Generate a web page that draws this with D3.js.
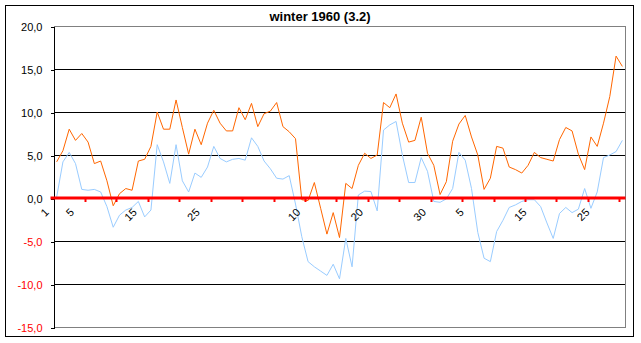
<!DOCTYPE html>
<html>
<head>
<meta charset="utf-8">
<script src="https://cdn.jsdelivr.net/npm/d3@7/dist/d3.min.js"></script>
<style>
  html, body { margin: 0; padding: 0; background: #fff; }
  svg { display: block; }
  text { font-family: Arial, "Liberation Sans", sans-serif; }
</style>
</head>
<body>
<svg id="chart" width="641" height="343"></svg>
<script>
const title = "winter 1960 (3.2)";
const days = d3.range(1, 92);
const upperSeries = [
  4.2, 5.5, 8.0, 6.7, 7.5, 6.5, 4.0, 4.3, 2.0, -0.9,
  0.5, 1.1, 0.9, 4.3, 4.5, 6.0, 10.0, 8.0, 8.0, 11.4,
  8.2, 5.1, 8.0, 6.2, 8.7, 10.2, 8.7, 7.8, 7.8, 10.5,
  9.1, 11.0, 8.3, 9.8, 10.1, 11.1, 8.3, 7.7, 6.9, -0.2,
  -0.3, 1.8, -1.2, -4.2, -1.7, -4.6, 1.7, 1.1, 3.8, 5.2,
  4.6, 5.0, 11.1, 10.5, 12.1, 8.7, 6.5, 6.7, 9.4, 5.2,
  3.8, 0.4, 1.9, 6.6, 8.6, 9.6, 7.1, 5.0, 1.0, 2.3,
  6.0, 5.8, 3.6, 3.3, 2.9, 3.8, 5.3, 4.7, 4.5, 4.3,
  6.8, 8.2, 7.8, 5.1, 3.3, 7.1, 6.0, 8.7, 11.8, 16.5,
  15.3
];
const lowerSeries = [
  0.1, 4.2, 5.3, 4.0, 1.0, 0.9, 1.0, 0.7, -1.0, -3.4,
  -2.0, -1.4, -1.1, -0.4, -2.2, -1.4, 6.2, 4.2, 1.7, 6.2,
  2.0, 0.7, 2.9, 2.4, 3.6, 6.0, 4.6, 4.2, 4.5, 4.6,
  4.4, 7.0, 6.0, 4.3, 3.4, 2.3, 2.2, 2.6, -0.7, -4.5,
  -7.4, -8.0, -8.5, -9.0, -7.7, -9.4, -4.7, -8.0, 0.35, 0.8,
  0.75, -1.5, 7.9, 8.5, 8.9, 5.0, 1.8, 1.8, 4.7, 3.1,
  -0.4, -0.5, -0.1, 1.1, 5.3, 4.4, 1.1, -4.0, -7.0, -7.4,
  -3.9, -2.6, -1.1, -0.8, -0.4, -0.2, -0.2, -1.0, -2.9, -4.7,
  -1.8, -1.1, -1.7, -1.3, 1.1, -1.2, 0.7, 4.7, 5.0, 5.4,
  6.7
];
// category index -> shown label (day of month)
const xLabelIndex = [1, 5, 15, 25, 41, 51, 61, 67, 77, 87];
const xLabelText  = ["1", "5", "15", "25", "10", "20", "30", "5", "15", "25"];
const yTicks = [-15, -10, -5, 0, 5, 10, 15, 20];

const svg = d3.select("#chart");
const L = 53.5, R = 625.5, T = 26, B = 327;

// outer border
svg.append("rect").attr("x", 5.5).attr("y", 5.5).attr("width", 628).attr("height", 331)
  .attr("fill", "#fff").attr("stroke", "#000").attr("stroke-width", 1);

svg.append("text").attr("x", 320).attr("y", 21).attr("text-anchor", "middle")
  .attr("font-size", 13).attr("font-weight", "bold").text(title);

const x = d3.scalePoint().domain(days).range([L, R]).padding(0.5);
const step = x.step();
const y = d3.scaleLinear().domain([-15, 20]).range([B, T]);

// gridlines
svg.append("g").selectAll("line").data(yTicks.filter(v => v !== 0 && v !== 20 && v !== -15))
  .join("line")
  .attr("x1", L).attr("x2", R)
  .attr("y1", d => Math.round(y(d)) + 0.5).attr("y2", d => Math.round(y(d)) + 0.5)
  .attr("stroke", "#000").attr("stroke-width", 1).attr("shape-rendering", "crispEdges");

// plot border (gray top/right/bottom)
svg.append("path")
  .attr("d", `M${L},${Math.round(y(20)) + 0.5}H${R}V${Math.round(y(-15)) + 0.5}H${L}`)
  .attr("fill", "none").attr("stroke", "#808080").attr("stroke-width", 1)
  .attr("shape-rendering", "crispEdges");

// y axis
const fmt = v => d3.format(".1f")(v).replace(".", ",").replace("−", "-");
const yAxis = d3.axisLeft(y).tickValues(yTicks).tickSize(3).tickPadding(8).tickFormat(fmt);
const gy = svg.append("g").attr("transform", `translate(${L},0.5)`).call(yAxis);
gy.select(".domain").attr("stroke", "#000").attr("shape-rendering", "crispEdges");
gy.selectAll(".tick line").attr("stroke", "#000").attr("shape-rendering", "crispEdges");
gy.selectAll(".tick text")
  .attr("font-size", 11).attr("font-family", "Arial, 'Liberation Sans', sans-serif")
  .attr("fill", d => d < 0 ? "#ff0000" : "#000");

// lines
const line = d3.line().x((d, i) => x(days[i])).y(d => y(d));
svg.append("path").datum(lowerSeries).attr("d", line)
  .attr("fill", "none").attr("stroke", "#99ccff").attr("stroke-width", 1);
svg.append("path").datum(upperSeries).attr("d", line)
  .attr("fill", "none").attr("stroke", "#ff6600").attr("stroke-width", 1);

// zero axis (red)
const y0 = y(0);
svg.append("line").attr("x1", L - 3).attr("x2", R).attr("y1", y0).attr("y2", y0)
  .attr("stroke", "#ff0000").attr("stroke-width", 3);
const tickPos = d3.range(5, 91, 5).map(i => x(days[i - 1]) + step / 2);
svg.append("g").selectAll("line").data(tickPos).join("line")
  .attr("x1", d => Math.round(d) + 0.5).attr("x2", d => Math.round(d) + 0.5)
  .attr("y1", y0).attr("y2", y0 + 4)
  .attr("stroke", "#ff0000").attr("stroke-width", 2);

// x labels rotated
svg.append("g").selectAll("text").data(xLabelIndex).join("text")
  .attr("transform", d => `translate(${x(days[d - 1]) - 7},${y0 + 15}) rotate(-45)`)
  .attr("text-anchor", "end").attr("font-size", 11)
  .text((d, i) => xLabelText[i]);
</script>
</body>
</html>
